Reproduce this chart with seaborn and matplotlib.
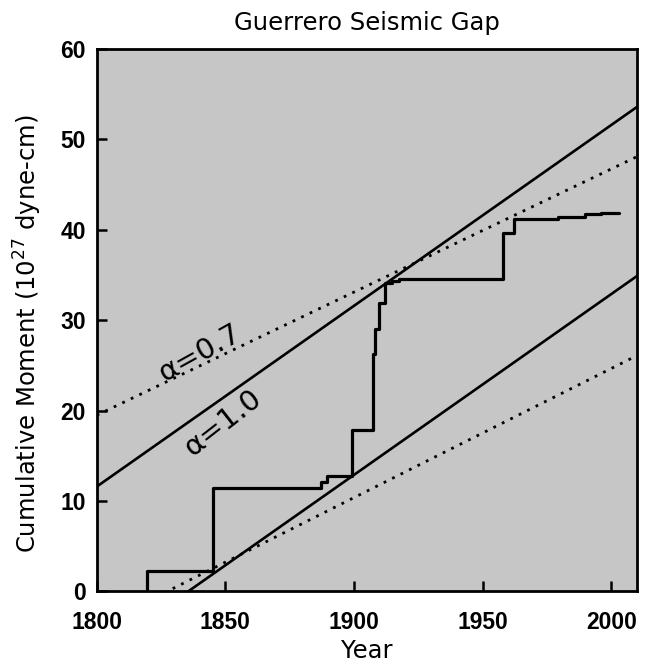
import matplotlib
matplotlib.use("Agg")
import matplotlib.pyplot as plt
import numpy as np
import pandas as pd
import seaborn as sns

# ---- data ----
event_years = [1819.5, 1819.5, 1845.0, 1887.3, 1889.6, 1899.3, 1907.5, 1908.2,
               1909.7, 1911.9, 1914.9, 1917.5, 1958.0, 1962.3, 1979.2, 1989.6,
               1996.0, 2003.0]
cum_moment = [0.0, 2.3, 11.5, 12.15, 12.8, 17.9, 26.3, 29.0,
              31.9, 34.1, 34.35, 34.6, 39.6, 41.2, 41.4, 41.8,
              41.9, 41.9]

# reference moment-rate lines (alpha = 1.0 solid, alpha = 0.7 dotted)
line_years = [1800, 2010]
upper_solid = [11.6, 53.6]
lower_solid = [-7.1, 34.9]
upper_dotted = [19.5, 48.1]
lower_dotted = [-3.9, 26.1]

x_ticks = [1800, 1850, 1900, 1950, 2000]
y_ticks = [0, 10, 20, 30, 40, 50, 60]

sns.set_theme(style="white")
plt.rcParams["font.family"] = ["DejaVu Sans"]
plt.rcParams["mathtext.default"] = "regular"
plt.rcParams["text.color"] = "black"
plt.rcParams["axes.labelcolor"] = "black"

fig = plt.figure(figsize=(6.51, 6.64), dpi=100)
ax = fig.add_axes([0.1486, 0.1092, 0.8300, 0.8170])
ax.set_facecolor("#c6c6c6")

steps = pd.DataFrame({"year": event_years, "moment": cum_moment})
sns.lineplot(data=steps, x="year", y="moment", estimator=None, sort=False,
             drawstyle="steps-post", color="black", linewidth=2.3, ax=ax)

lines = pd.DataFrame({"year": line_years * 4,
                      "moment": upper_solid + lower_solid + upper_dotted + lower_dotted,
                      "kind": ["us"] * 2 + ["ls"] * 2 + ["ud"] * 2 + ["ld"] * 2})
for k in ["us", "ls"]:
    sub = lines[lines["kind"] == k]
    sns.lineplot(data=sub, x="year", y="moment", estimator=None, sort=False,
                 color="black", linewidth=1.9, ax=ax)
for k in ["ud", "ld"]:
    sub = lines[lines["kind"] == k]
    sns.lineplot(data=sub, x="year", y="moment", estimator=None, sort=False,
                 color="black", linewidth=2.0, linestyle=(0, (1, 2.4)), ax=ax)

ax.set_xlim(1800, 2010)
ax.set_ylim(0, 60)
ax.set_xticks(x_ticks)
ax.set_yticks(y_ticks)
ax.set_xticklabels([str(t) for t in x_ticks], fontsize=16.5,
                   family="Liberation Sans", weight="bold")
ax.set_yticklabels([str(t) for t in y_ticks], fontsize=16.5,
                   family="Liberation Sans", weight="bold")
ax.tick_params(direction="in", length=7, width=1.8,
               bottom=True, left=True, top=False, right=False, colors="black")
ax.tick_params(axis="x", pad=14)
ax.tick_params(axis="y", pad=8)
for s in ax.spines.values():
    s.set_linewidth(2)
    s.set_color("black")

ax.set_xlabel("Year", fontsize=17.5)
ax.xaxis.set_label_coords(0.5, -0.088)
ax.set_ylabel("Cumulative Moment (10$^{27}$ dyne-cm)", fontsize=17.5)
ax.yaxis.set_label_coords(-0.098, 0.475)

fig.text(0.5637, 0.966, "Guerrero Seismic Gap", ha="center", va="center",
         fontsize=17.5)

ax.text(1840, 26.4, "α=0.7", fontsize=21, rotation=29, ha="center",
        va="center", rotation_mode="anchor")
ax.text(1849, 18.6, "α=1.0", fontsize=21, rotation=38, ha="center",
        va="center", rotation_mode="anchor")

fig.savefig("out.png", dpi=100)
